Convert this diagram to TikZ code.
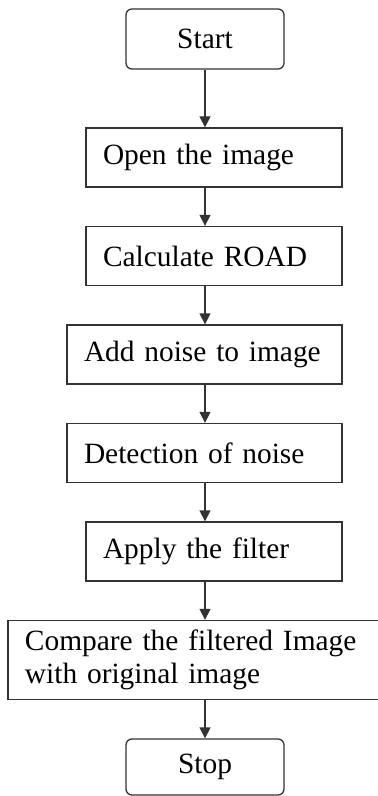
\documentclass[tikz,border=0pt]{standalone}
\usepackage{fontspec}
\setmainfont{Liberation Serif}
\usetikzlibrary{arrows.meta,positioning}
\definecolor{traco}{HTML}{333333}

\begin{document}
\begin{tikzpicture}[>={Triangle[length=5.5pt,width=5.5pt]}, node distance=19.1pt, font=\fontsize{14.7}{16.5}\selectfont,
  term/.style={draw=traco, line width=0.65pt, rounded corners=3pt, minimum width=79pt, minimum height=30pt, inner sep=0pt},
  bx/.style={draw=traco, line width=0.65pt, text width=#1, align=left, inner xsep=8.5pt, inner ysep=0pt, minimum height=29.5pt}]
  \useasboundingbox (0,0) rectangle (188.5pt,-398pt);
  \node[term] (start) at (102.5pt,-19.5pt) {Start};
  \node[bx=111pt, below=28.85pt of start, xshift=4.5pt] (open) {Open the image};
  \node[bx=111pt, below=of open] (road) {Calculate ROAD};
  \node[bx=120.5pt, below=of road, xshift=-4.75pt] (noise) {Add noise to image};
  \node[bx=120.5pt, below=of noise] (detect) {Detection of noise};
  \node[bx=111pt, below=of detect, xshift=4.75pt] (filt) {Apply the filter};
  \node[bx=169.5pt, minimum height=39.5pt, below=of filt, xshift=-9.75pt] (comp) {Compare the filtered Image\\with original image};
  \node[term, minimum height=28pt, below=of comp, xshift=5.25pt] (stop) {Stop};
  \draw[->, draw=traco, line width=0.65pt] (start.south) -- (start.south |- open.north);
  \draw[->, draw=traco, line width=0.65pt] (open.south -| start) -- (road.north -| start);
  \draw[->, draw=traco, line width=0.65pt] (road.south -| start) -- (noise.north -| start);
  \draw[->, draw=traco, line width=0.65pt] (noise.south -| start) -- (detect.north -| start);
  \draw[->, draw=traco, line width=0.65pt] (detect.south -| start) -- (filt.north -| start);
  \draw[->, draw=traco, line width=0.65pt] (filt.south -| start) -- (comp.north -| start);
  \draw[->, draw=traco, line width=0.65pt] (comp.south -| start) -- (stop.north -| start);
\end{tikzpicture}
\end{document}
